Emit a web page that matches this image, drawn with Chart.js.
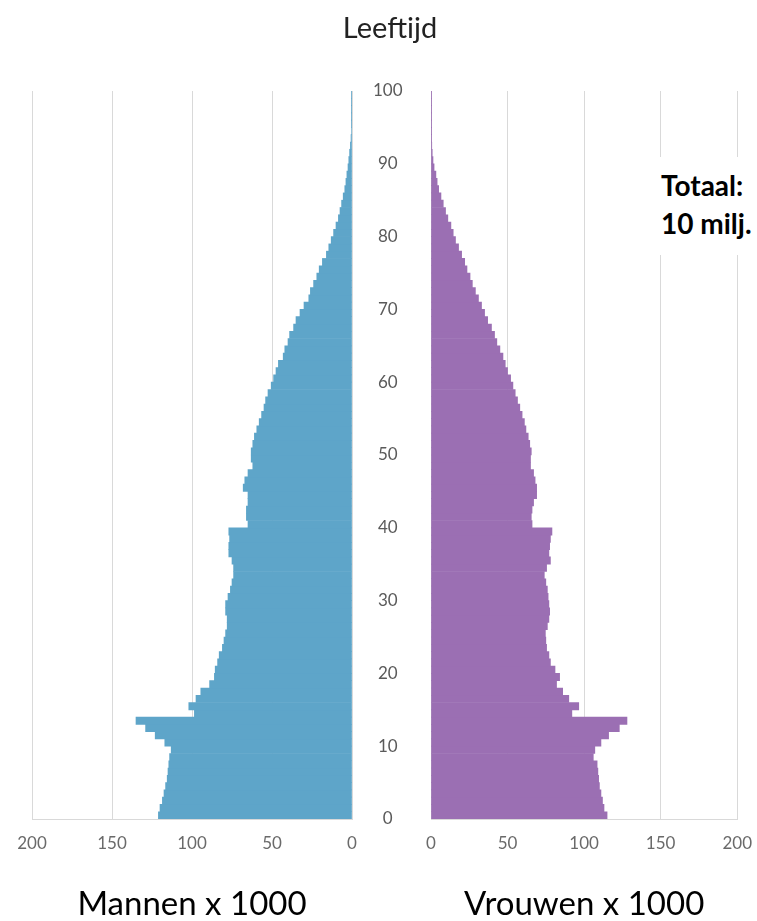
<!DOCTYPE html>
<html>
<head>
<meta charset="utf-8">
<script src="https://cdn.jsdelivr.net/npm/chart.js@4.4.1/dist/chart.umd.min.js"></script>
<style>
  body { margin: 0; background: #fff; font-family: Lato, sans-serif; }
  #wrap { position: relative; width: 757px; height: 921px; overflow: hidden; }
  canvas { position: absolute; top: 0; }
  #men-chart { left: 0; }
  #women-chart { left: 400px; }
  #title { position: absolute; top: 9px; left: 0; width: 780px; text-align: center; font-size: 29px; color: #222; }
  #total { position: absolute; left: 655px; top: 157px; width: 102px; height: 98px; background: #fff;
           font-weight: bold; font-size: 28px; line-height: 38px; color: #000; padding-left: 6px; box-sizing: border-box; padding-top: 9px; }
</style>
</head>
<body>
<div id="wrap">
  <canvas id="men-chart" width="431" height="926"></canvas>
  <canvas id="women-chart" width="366" height="926"></canvas>
  <div id="title">Leeftijd</div>
  <div id="total">Totaal:<br>10 milj.</div>
</div>
<script>
// ages 0..99, one bar per year
let ages = [0,1,2,3,4,5,6,7,8,9,10,11,12,13,14,15,16,17,18,19,
    20,21,22,23,24,25,26,27,28,29,30,31,32,33,34,35,36,37,38,39,
    40,41,42,43,44,45,46,47,48,49,50,51,52,53,54,55,56,57,58,59,
    60,61,62,63,64,65,66,67,68,69,70,71,72,73,74,75,76,77,78,79,
    80,81,82,83,84,85,86,87,88,89,90,91,92,93,94,95,96,97,98,99]

// men per age (x 1000)
let men = [121,120,118.5,117.5,116.5,115.5,115,114.5,114,113,
    117,123,129,135,98.5,102,97.5,94.5,89,86,
    85.5,84,83,81,80,79,78,78,79,79,
    77.5,76,75,74,74,75,77,77,76.5,77,
    65,66,66,65,65,68,67,65,62,63,
    63,62,61,59.5,58,56.5,55,54,52.5,50.5,
    49,47.5,46,43,42,40,39,36.5,35,32.5,
    30,27,26,24,22,20.5,18.5,16,14.5,13,
    11.5,10,8.5,7.5,6.5,5.5,4.5,3.8,3.2,2.5,
    2,1.5,1,0.6,0.3,0.2,0.1,0.1,0.05,0.05]

// women per age (x 1000)
let women = [115,113,112,111,110,109.5,109,108.5,106,107,
    111,116,123,128,92,96.5,90,86,82,84,
    81,78,77,75.5,75,74.7,76,77,77.5,77,
    76.5,76,75,74,75.5,78,77,77.5,78,79,
    66,65.5,66,67,69,69,68,67,65,65,
    65.5,64.5,63.5,62,61,59.5,58,56.5,55,53.5,
    52,50,48.5,47,45,43,41.5,39.5,37,35,
    33,31,29,27,25.5,23.5,22,20,18,16,
    14.5,13,11,9.5,8,6.5,5,4,3.2,2,
    1.3,0.8,0.5,0.2,0.1,0.1,0.05,0.05,0.05,0.05]

let ageTicks = [0,10,20,30,40,50,60,70,80,90,100]
let countTicks = [0,50,100,150,200]

let gridColor = '#d9d9d9'
let tickColor = '#6a6a6a'
let tickFont = {family: 'Lato', size: 17}

// each age bar sits between age and age+1
function toPoints(values) {
    return values.map((v, i) => ({x: v, y: ages[i] + 0.5}))
}

function setTicks(list) {
    return function(scale) {
        scale.ticks = list.map(v => ({value: v}))
    }
}

function xScale(reverse, title) {
    return {
        type: 'linear', min: 0, max: 200, reverse: reverse,
        afterBuildTicks: setTicks(countTicks),
        afterFit: function(scale) { scale.height = 107 },
        grid: {color: gridColor, drawTicks: false},
        border: {color: gridColor},
        ticks: {color: tickColor, font: tickFont, padding: 14},
        title: {display: true, text: title, color: '#000', font: {family: 'Lato', size: 33}, padding: {top: 0, bottom: 2}}
    }
}

let common = {
    responsive: false,
    animation: false,
    indexAxis: 'y',
    plugins: {legend: {display: false}, tooltip: {enabled: false}}
}

// left chart: men, x reversed, age labels on its right side
new Chart(document.querySelector('#men-chart').getContext('2d'), {
    type: 'bar',
    data: {datasets: [{data: toPoints(men), backgroundColor: '#5ea5c9', borderWidth: 0,
        barPercentage: 1, categoryPercentage: 1}]},
    options: Object.assign({}, common, {
        layout: {padding: {top: 91, left: 32, right: 0, bottom: 0}},
        scales: {
            x: xScale(true, 'Mannen x 1000'),
            y: {
                type: 'linear', position: 'right', min: 0, max: 100, offset: false,
                afterBuildTicks: setTicks(ageTicks),
                afterFit: function(scale) { scale.width = 79 },
                grid: {display: false}, border: {display: false},
                ticks: {color: '#5a5a5a', font: tickFont, padding: 13, crossAlign: 'center'}
            }
        }
    })
})

// right chart: women
new Chart(document.querySelector('#women-chart').getContext('2d'), {
    type: 'bar',
    data: {datasets: [{data: toPoints(women), backgroundColor: '#9b6fb3', borderWidth: 0,
        barPercentage: 1, categoryPercentage: 1}]},
    options: Object.assign({}, common, {
        layout: {padding: {top: 91, left: 31, right: 20, bottom: 0}},
        scales: {
            x: xScale(false, 'Vrouwen x 1000'),
            y: {type: 'linear', min: 0, max: 100, offset: false, display: false}
        }
    })
})
</script>
</body>
</html>
